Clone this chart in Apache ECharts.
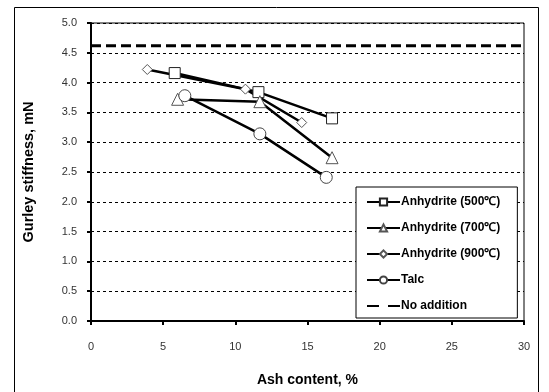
<!DOCTYPE html>
<html>
<head>
<meta charset="utf-8">
<script src="https://cdn.jsdelivr.net/npm/echarts@6/dist/echarts.min.js"></script>
<style>
html, body { margin: 0; padding: 0; background: #fff; }
#chart { width: 549px; height: 392px; }
</style>
</head>
<body>
<div id="chart"></div>
<script>
// values
var seriesNames = ["Anhydrite (500℃)", "Anhydrite (700℃)", "Anhydrite (900℃)", "Talc", "No addition"];
var anhydrite500 = [[5.8, 4.16], [11.6, 3.84], [16.7, 3.40]];
var anhydrite700 = [[6.0, 3.72], [11.7, 3.68], [16.7, 2.74]];
var anhydrite900 = [[3.9, 4.22], [10.7, 3.89], [14.6, 3.33]];
var talc = [[6.5, 3.78], [11.7, 3.14], [16.3, 2.41]];
var noAddition = [[0, 4.62], [30, 4.62]];

var chart = echarts.init(document.getElementById("chart"));

function lineSeries(name, data, symbol, size, border) {
  return {
    name: name,
    type: "line",
    data: data,
    symbol: symbol,
    symbolSize: size,
    lineStyle: { color: "#000", width: 2.5 },
    itemStyle: { color: "#fff", borderColor: border, borderWidth: 1 },
    emphasis: { disabled: true },
  };
}

// legend entries, the dashed one gets its own dash pattern
var legendData = seriesNames.map(function (n) {
  if (n === "No addition") {
    return { name: n, lineStyle: { type: [12, 9] } };
  }
  return { name: n };
});

chart.setOption({
  animation: false,
  textStyle: { fontFamily: "Liberation Sans, Arial, sans-serif" },
  graphic: [
    {
      type: "rect",
      shape: { x: 14.5, y: 7.5, width: 524, height: 400 },
      style: { fill: null, stroke: "#000", lineWidth: 1 },
      silent: true,
    },
  ],
  grid: {
    left: 91,
    right: 25,
    top: 23,
    bottom: 69,
    show: true,
    borderColor: "#000",
    borderWidth: 1,
  },
  legend: {
    orient: "vertical",
    left: 356,
    top: 187,
    data: legendData,
    itemWidth: 33,
    itemHeight: 9,
    itemGap: 14,
    padding: [9, 17, 6, 10],
    borderColor: "#000",
    borderWidth: 1,
    backgroundColor: "#fff",
    textStyle: {
      fontSize: 12,
      lineHeight: 9,
      fontWeight: "bold",
      color: "#000",
      padding: [0, 0, 0, -4],
    },
  },
  xAxis: {
    type: "value",
    min: 0,
    max: 30,
    interval: 5,
    name: "Ash content, %",
    nameLocation: "middle",
    nameGap: 52,
    nameTextStyle: { fontSize: 14, fontWeight: "bold", color: "#000" },
    axisLine: { onZero: false, lineStyle: { color: "#000", width: 2 } },
    axisTick: { show: true, length: 4, lineStyle: { color: "#000", width: 2 } },
    axisLabel: { fontSize: 11, color: "#333", margin: 20 },
    splitLine: { show: false },
  },
  yAxis: {
    type: "value",
    min: 0,
    max: 5,
    interval: 0.5,
    name: "Gurley stiffness, mN",
    nameLocation: "middle",
    nameGap: 55,
    nameTextStyle: { fontSize: 14.5, fontWeight: "bold", color: "#000" },
    axisLine: { show: true, lineStyle: { color: "#000", width: 2 } },
    axisTick: { show: true, length: 4, lineStyle: { color: "#000", width: 2 } },
    axisLabel: {
      fontSize: 11,
      color: "#333",
      margin: 14,
      formatter: function (v) { return v.toFixed(1); },
    },
    splitLine: { show: true, lineStyle: { color: "#000", width: 1, type: [3, 3] } },
  },
  series: [
    {
      name: "No addition",
      type: "line",
      data: noAddition,
      symbol: "none",
      lineStyle: { color: "#000", width: 3, type: [10, 5] },
      itemStyle: { color: "rgba(0,0,0,0)", borderWidth: 0 },
      emphasis: { disabled: true },
    },
    lineSeries("Anhydrite (500℃)", anhydrite500, "rect", 11, "#222"),
    lineSeries("Anhydrite (700℃)", anhydrite700, "triangle", 12, "#555"),
    lineSeries("Anhydrite (900℃)", anhydrite900, "diamond", 10, "#555"),
    lineSeries("Talc", talc, "circle", 12, "#444"),
  ],
});
</script>
</body>
</html>
